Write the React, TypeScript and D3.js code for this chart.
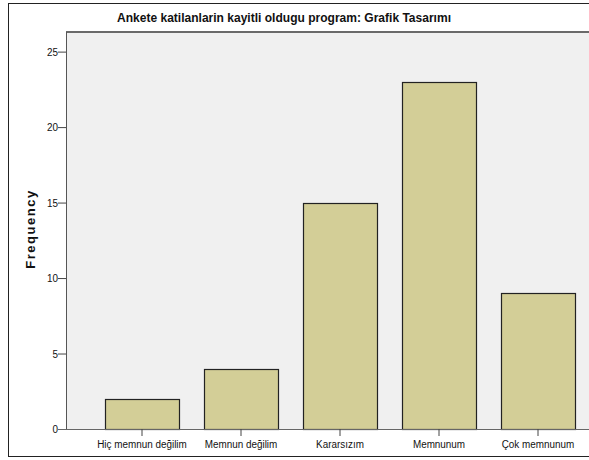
import React, { useEffect, useRef } from 'react';
import * as d3 from 'd3';

const categories = ['Hiç memnun değilim', 'Memnun değilim', 'Kararsızım', 'Memnunum', 'Çok memnunum'];
const frequencies = [2, 4, 15, 23, 9];
const yTicks = [0, 5, 10, 15, 20, 25];
const title = 'Ankete katilanlarin kayitli oldugu program: Grafik Tasarımı';

const W = 589;
const H = 460;
const FONT = 'Liberation Sans, Arial, sans-serif';

export default function App() {
  const ref = useRef<SVGSVGElement | null>(null);

  useEffect(() => {
    const svg = d3.select(ref.current);
    svg.selectAll('*').remove();

    const plotL = 66, plotT = 32, plotB = 429, plotR = 600;

    const x = d3.scaleBand<string>()
      .domain(categories)
      .range([92.5, 587.5])
      .paddingInner(0.25)
      .paddingOuter(0.125);
    const y = d3.scaleLinear().domain([0, 26.3]).range([plotB, plotT]);

    svg.append('rect').attr('width', W).attr('height', H).attr('fill', '#fff');

    // outer frame
    svg.append('rect')
      .attr('x', 8.5).attr('y', 3.5)
      .attr('width', 620).attr('height', 453)
      .attr('fill', 'none').attr('stroke', '#222');

    // plot background
    svg.append('rect')
      .attr('x', plotL).attr('y', plotT)
      .attr('width', plotR - plotL).attr('height', plotB - plotT)
      .attr('fill', '#f0f0f0');

    svg.append('line')
      .attr('x1', plotL).attr('x2', plotR)
      .attr('y1', plotT).attr('y2', plotT)
      .attr('stroke', '#6a6a6a').attr('stroke-width', 2);

    // bars
    svg.append('g').selectAll('rect')
      .data(frequencies)
      .enter().append('rect')
      .attr('x', (d, i) => Math.round(x(categories[i])!) + 0.5)
      .attr('y', d => Math.round(y(d)) + 0.5)
      .attr('width', Math.round(x.bandwidth()))
      .attr('height', d => Math.round(y(0) - y(d)))
      .attr('fill', '#d3ce97')
      .attr('stroke', '#222')
      .attr('stroke-width', 1.2);

    // y axis
    const yAxis = svg.append('g')
      .attr('transform', `translate(${plotL},0)`)
      .call(d3.axisLeft(y).tickValues(yTicks).tickSize(8).tickPadding(1).tickFormat(d3.format('d')));
    yAxis.select('.domain').attr('stroke', '#555').attr('d', `M0.5,${plotT}V${plotB}`);
    yAxis.selectAll('.tick line').attr('stroke', '#444');
    yAxis.selectAll('text')
      .attr('font-family', FONT)
      .attr('font-size', 11).attr('fill', '#111')
      .attr('transform', 'scale(0.9,1)');

    // x axis
    const xAxis = svg.append('g')
      .attr('transform', `translate(0,${plotB})`)
      .call(d3.axisBottom(x).tickSize(7).tickPadding(4));
    xAxis.select('.domain').attr('stroke', '#666').attr('d', `M${plotL - 8},0.5H${plotR}`);
    xAxis.selectAll('.tick line').attr('stroke', '#444');
    xAxis.selectAll('text')
      .attr('font-family', FONT)
      .attr('font-size', 11).attr('fill', '#111')
      .attr('transform', 'scale(0.9,1)');

    // title
    svg.append('text')
      .attr('x', 284).attr('y', 22)
      .attr('text-anchor', 'middle')
      .attr('font-family', FONT)
      .attr('font-weight', 'bold')
      .attr('font-size', 13.5)
      .attr('fill', '#111')
      .attr('textLength', 334)
      .attr('lengthAdjust', 'spacingAndGlyphs')
      .text(title);

    // y label
    svg.append('text')
      .attr('transform', 'translate(35,229) rotate(-90)')
      .attr('text-anchor', 'middle')
      .attr('font-family', FONT)
      .attr('font-weight', 'bold')
      .attr('font-size', 13)
      .attr('letter-spacing', 1.5)
      .attr('fill', '#111')
      .text('Frequency');
  }, []);

  return (
    <svg ref={ref} width={W} height={H}
      style={{ position: 'absolute', left: 0, top: 0, display: 'block' }} />
  );
}
